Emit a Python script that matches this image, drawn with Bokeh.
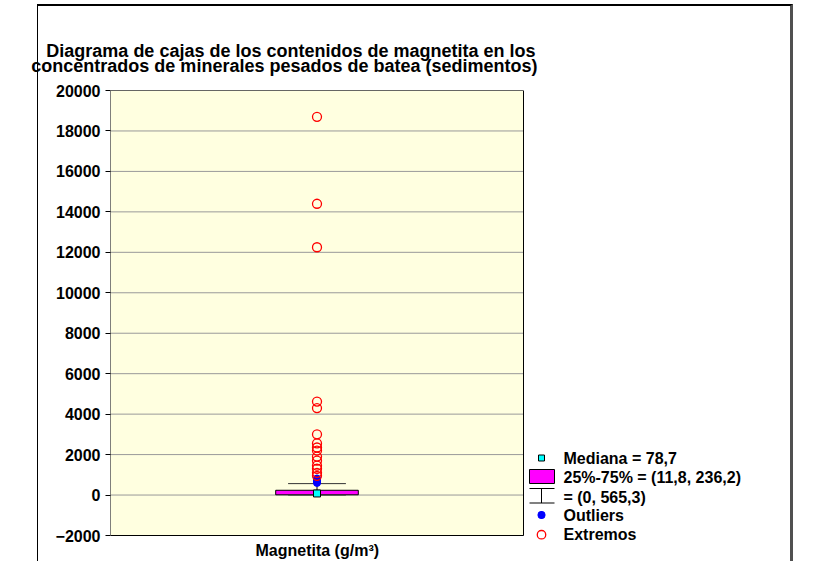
import math
from bokeh.plotting import figure
from bokeh.models import (Title, Label, BoxAnnotation, FixedTicker, Range1d,
                          InlineStyleSheet)
from bokeh.embed import file_html
from bokeh.resources import INLINE

# ---- data ----
title_lines = ["Diagrama de cajas de los contenidos de magnetita en los",
               "concentrados de minerales pesados de batea (sedimentos)"]
x_label = "Magnetita (g/m³)"
median = 78.7
q1, q3 = 11.8, 236.2
whisker_lo, whisker_hi = 0, 565.3
outliers = [600, 650, 700, 760, 820]
extremes = [18700, 14400, 12250, 4620, 4300, 3000, 2550, 2350, 2200,
            1900, 1700, 1450, 1300, 1100, 950]
y_ticks = [-2000, 0, 2000, 4000, 6000, 8000, 10000, 12000, 14000,
           16000, 18000, 20000]


def fmt(v):
    return ("%g" % v).replace(".", ",")


legend_texts = [
    "Mediana = " + fmt(median),
    "25%-75% = (" + fmt(q1) + ", " + fmt(q3) + ")",
    "= (" + fmt(whisker_lo) + ", " + fmt(whisker_hi) + ")",
    "Outliers",
    "Extremos",
]

FONT = "Liberation Sans"

# ---- layout (pixels) ----
W, H = 811, 561
FL, FR, FT, FB = 110, 790, 90, 541     # frame (plot area + legend area)
PA_R, PA_B = 523, 535                  # right / bottom edge of the yellow plot area
x_hi = (FR - FL) / (PA_R - FL)          # plot area spans x = 0..1
y_span = y_ticks[-1] - y_ticks[0]
y_lo = y_ticks[0] - (FB - PA_B) * y_span / (PA_B - FT)

p = figure(width=W, height=H, x_range=Range1d(0, x_hi), y_range=Range1d(y_lo, y_ticks[-1]),
           output_backend="svg", toolbar_location=None, title=None,
           min_border_left=FL, min_border_right=W - FR, min_border_top=FT,
           min_border_bottom=H - FB,
           background_fill_color="white", border_fill_color="white",
           outline_line_color=None)

p.xaxis.visible = False
p.xgrid.visible = False
p.ygrid.visible = False
p.yaxis.ticker = FixedTicker(ticks=y_ticks)
p.yaxis.major_label_text_font = FONT
p.yaxis.major_label_text_font_style = "bold"
p.yaxis.major_label_text_font_size = "16px"
p.yaxis.major_label_text_color = "black"
p.yaxis.major_label_standoff = 5
p.yaxis.major_tick_out = 5
p.yaxis.major_tick_in = 0
p.yaxis.minor_tick_line_color = None
p.yaxis.axis_line_color = None
p.yaxis.major_tick_line_color = "black"

# plot area background, grid and border
p.quad(left=[0], right=[1], bottom=[y_ticks[0]], top=[y_ticks[-1]],
       fill_color="#FFFFE0", line_color=None)
p.segment(x0=[0] * len(y_ticks), x1=[1] * len(y_ticks), y0=y_ticks, y1=y_ticks,
          line_color="#999999", line_width=1)
p.quad(left=[0], right=[1], bottom=[y_ticks[0]], top=[y_ticks[-1]],
       fill_color=None, line_color="black", line_width=1)

xc = 0.5
box_w = 0.2
cap_w = 0.14

# box
p.quad(left=[xc - box_w / 2], right=[xc + box_w / 2], bottom=[q1], top=[q3],
       fill_color="#FF00FF", line_color="black", line_width=1)
# whiskers
p.segment(x0=[xc, xc], y0=[q3, q1], x1=[xc, xc], y1=[whisker_hi, whisker_lo],
          line_color="black", line_width=1)
p.segment(x0=[xc - cap_w / 2, xc - cap_w / 2], y0=[whisker_hi, whisker_lo],
          x1=[xc + cap_w / 2, xc + cap_w / 2], y1=[whisker_hi, whisker_lo],
          line_color="#333333", line_width=1)
# outliers
p.scatter(x=[xc] * len(outliers), y=outliers, marker="circle", size=7,
          fill_color="blue", line_color="blue")
# extremes
p.scatter(x=[xc] * len(extremes), y=extremes, marker="circle", size=9,
          fill_color=None, line_color="red", line_width=1.3)
# median
p.scatter(x=[xc], y=[median], marker="square", size=7,
          fill_color="#00FFFF", line_color="black", line_width=1)

# ---- title: two lines (first line indented so both end near the same x) ----
title_text = "\u00a0\u00a0\u00a0" + title_lines[0] + "\n" + title_lines[1]
p.add_layout(Title(text=title_text, align="right", offset=FR - 537,
                   vertical_align="bottom", standoff=30,
                   text_font=FONT, text_font_style="bold", text_font_size="18px",
                   text_line_height=0.75, text_color="black"), "above")

# ---- x label ----
p.add_layout(Title(text=x_label, align="left", offset=145, vertical_align="top", standoff=0,
                   text_font=FONT, text_font_style="bold", text_font_size="16px",
                   text_color="black"), "below")


# ---- legend (drawn inside the frame, screen units) ----
def sx(px):
    return px - FL


def sy(py):
    return FB - py


legend_y = [457.7, 476.5, 497, 514.5, 534]
for txt, yy in zip(legend_texts, legend_y):
    p.add_layout(Label(x=sx(563), y=sy(yy), x_units="screen", y_units="screen", text=txt,
                       text_align="left", text_baseline="middle",
                       text_font=FONT, text_font_style="bold", text_font_size="16px",
                       text_color="black"))


def sbox(l, r, t, b, **kw):
    return BoxAnnotation(left=sx(l), right=sx(r), bottom=sy(b), top=sy(t),
                         left_units="screen", right_units="screen",
                         bottom_units="screen", top_units="screen",
                         fill_alpha=1, line_alpha=1, **kw)


# median key
p.add_layout(sbox(538, 544, 454.5, 460.5, fill_color="#00FFFF",
                  line_color="black", line_width=1))
# box key
p.add_layout(sbox(529, 554, 469, 483, fill_color="#FF00FF",
                  line_color="black", line_width=1))
# whisker key (I shape)
p.add_layout(sbox(529, 554, 487.5, 488.5, fill_color="black", line_color=None))
p.add_layout(sbox(529, 554, 502, 503, fill_color="black", line_color=None))
p.add_layout(sbox(540.5, 541.5, 488, 502.5, fill_color="black", line_color=None))
# outlier key
p.add_layout(sbox(537.5, 544.5, 511, 518, fill_color="blue",
                  line_color="blue", border_radius=3))
# extreme key
p.add_layout(sbox(536.8, 545.2, 530, 538.4, fill_color="white",
                  line_color="red", line_width=1.3, border_radius=4))

# ---- outer frame lines of the pasted chart ----
p.stylesheets = [InlineStyleSheet(css=(
    ":host::after{content:'';position:absolute;left:37px;top:4px;width:756px;"
    "height:557px;box-sizing:border-box;border-left:1px solid #000;"
    "border-top:2px solid #000;border-right:3px solid #505050;pointer-events:none;}"
))]

open("out.html", "w").write(file_html(p, INLINE))
